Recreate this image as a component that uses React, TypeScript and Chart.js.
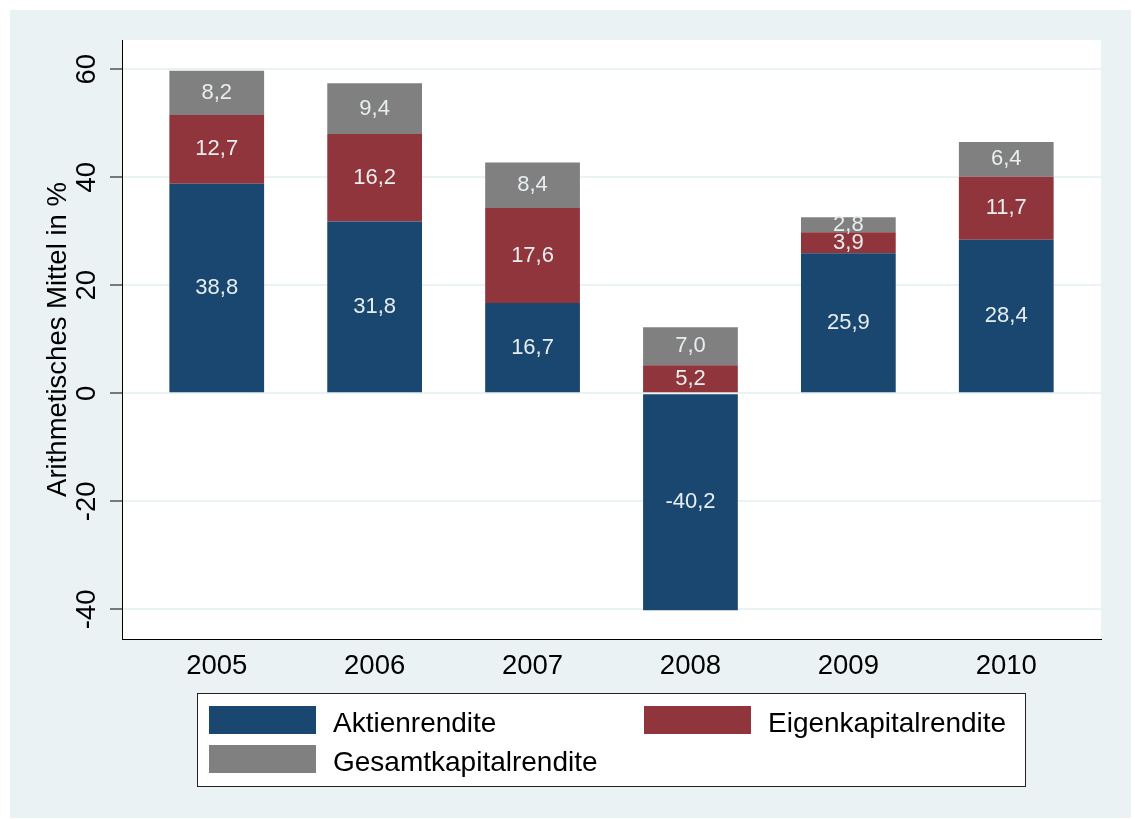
import React, { useEffect, useRef } from "react";
import { Chart, registerables } from "chart.js";

Chart.register(...registerables);

const years = [2005, 2006, 2007, 2008, 2009, 2010];
const aktienrendite = [38.8, 31.8, 16.7, -40.2, 25.9, 28.4];
const eigenkapitalrendite = [12.7, 16.2, 17.6, 5.2, 3.9, 11.7];
const gesamtkapitalrendite = [8.2, 9.4, 8.4, 7.0, 2.8, 6.4];
const seriesNames = ["Aktienrendite", "Eigenkapitalrendite", "Gesamtkapitalrendite"];
const seriesColors = ["#1a476f", "#90353b", "#808080"];
const yTickValues = [-40, -20, 0, 20, 40, 60];
const yTitle = "Arithmetisches Mittel in %";

const FONT = "'Liberation Sans', Arial, Helvetica, sans-serif";
const BG = "#eaf2f3";

const backgroundPlugin = {
  id: "stataBackground",
  beforeDraw(chart: any) {
    const { ctx, width, height, chartArea } = chart;
    ctx.save();
    ctx.fillStyle = "#ffffff";
    ctx.fillRect(0, 0, width, height);
    ctx.fillStyle = BG;
    ctx.fillRect(10, 10, width - 14, height - 11);
    ctx.fillStyle = "#ffffff";
    ctx.fillRect(chartArea.left, chartArea.top, chartArea.right - chartArea.left, chartArea.bottom - chartArea.top);
    ctx.restore();
  },
};

const barLabelPlugin = {
  id: "barLabels",
  afterDatasetsDraw(chart: any) {
    const { ctx } = chart;
    ctx.save();
    ctx.font = `22px ${FONT}`;
    ctx.fillStyle = "#e8eef0";
    ctx.textAlign = "center";
    ctx.textBaseline = "middle";
    chart.data.datasets.forEach((ds: any, di: number) => {
      const meta = chart.getDatasetMeta(di);
      meta.data.forEach((el: any, i: number) => {
        const { x, y, base } = el.getProps(["x", "y", "base"], true);
        const v = ds.data[i].y as number;
        const txt = v.toFixed(1).replace(".", ",");
        ctx.fillText(txt, x, (y + base) / 2);
      });
    });
    ctx.restore();
  },
};

const legendPlugin = {
  id: "stataLegend",
  afterDraw(chart: any) {
    const { ctx } = chart;
    const box = { x: 197, y: 693, w: 828, h: 93 };
    ctx.save();
    ctx.fillStyle = "#ffffff";
    ctx.fillRect(box.x, box.y, box.w, box.h);
    ctx.strokeStyle = "#222222";
    ctx.lineWidth = 1;
    ctx.strokeRect(box.x + 0.5, box.y + 0.5, box.w, box.h);
    const slots = [
      { sx: 209, sy: 706, tx: 333, ty: 732 },
      { sx: 644, sy: 706, tx: 768, ty: 732 },
      { sx: 209, sy: 745, tx: 333, ty: 771 },
    ];
    ctx.font = `28px ${FONT}`;
    ctx.textAlign = "left";
    ctx.textBaseline = "alphabetic";
    chart.data.datasets.forEach((ds: any, i: number) => {
      const s = slots[i];
      ctx.fillStyle = ds.backgroundColor;
      ctx.fillRect(s.sx, s.sy, 107, 28);
      ctx.fillStyle = "#000000";
      ctx.fillText(ds.label, s.tx, s.ty);
    });
    ctx.restore();
  },
};

export default function App() {
  const canvasRef = useRef<HTMLCanvasElement | null>(null);

  useEffect(() => {
    document.body.style.margin = "0";
    const canvas = canvasRef.current;
    if (!canvas) return;
    const seriesData = [aktienrendite, eigenkapitalrendite, gesamtkapitalrendite];
    const chart = new Chart(canvas, {
      type: "bar",
      data: {
        datasets: seriesData.map((vals, si) => ({
          label: seriesNames[si],
          data: years.map((yr, i) => ({ x: yr, y: vals[i] })),
          backgroundColor: seriesColors[si],
          borderWidth: 0,
          categoryPercentage: 1,
          barPercentage: 0.6,
        })),
      },
      options: {
        responsive: false,
        animation: false,
        devicePixelRatio: 1,
        layout: { padding: { left: 0, top: 40, right: 34, bottom: 100 } },
        plugins: {
          legend: { display: false },
          title: { display: false },
          tooltip: { enabled: false },
        },
        scales: {
          x: {
            type: "linear",
            stacked: true,
            offset: false,
            min: 2004.4,
            max: 2010.6,
            afterBuildTicks: (scale: any) => {
              scale.ticks = years.map((v) => ({ value: v }));
            },
            afterFit: (scale: any) => {
              scale.height = 80;
            },
            grid: { display: false, drawTicks: false, offset: false },
            border: { display: true, color: "#000000", width: 1 },
            ticks: {
              autoSkip: false,
              maxRotation: 0,
              padding: 11,
              color: "#000000",
              font: { family: FONT, size: 27.5 },
              callback: (v: any) => String(v),
            },
          },
          y: {
            type: "linear",
            stacked: true,
            min: -45.5,
            max: 65.4,
            afterBuildTicks: (scale: any) => {
              scale.ticks = yTickValues.map((v) => ({ value: v }));
            },
            afterFit: (scale: any) => {
              scale.width = 122;
            },
            grid: {
              color: BG,
              lineWidth: 2,
              drawTicks: true,
              tickLength: 12,
              tickColor: "#000000",
              tickWidth: 1,
            },
            border: { display: true, color: "#000000", width: 1 },
            ticks: {
              autoSkip: false,
              minRotation: 90,
              maxRotation: 90,
              crossAlign: "center",
              padding: 2.5,
              color: "#000000",
              font: { family: FONT, size: 27.5 },
              callback: (v: any) => String(v),
            },
            title: {
              display: true,
              text: yTitle,
              color: "#000000",
              font: { family: FONT, size: 27.5 },
              padding: { top: 42, bottom: 0 },
            },
          },
        },
      },
      plugins: [backgroundPlugin, barLabelPlugin, legendPlugin],
    } as any);
    return () => chart.destroy();
  }, []);

  return (
    <div style={{ width: 1135, height: 819 }}>
      <canvas ref={canvasRef} width={1135} height={819} style={{ display: "block", width: 1135, height: 819 }} />
    </div>
  );
}
